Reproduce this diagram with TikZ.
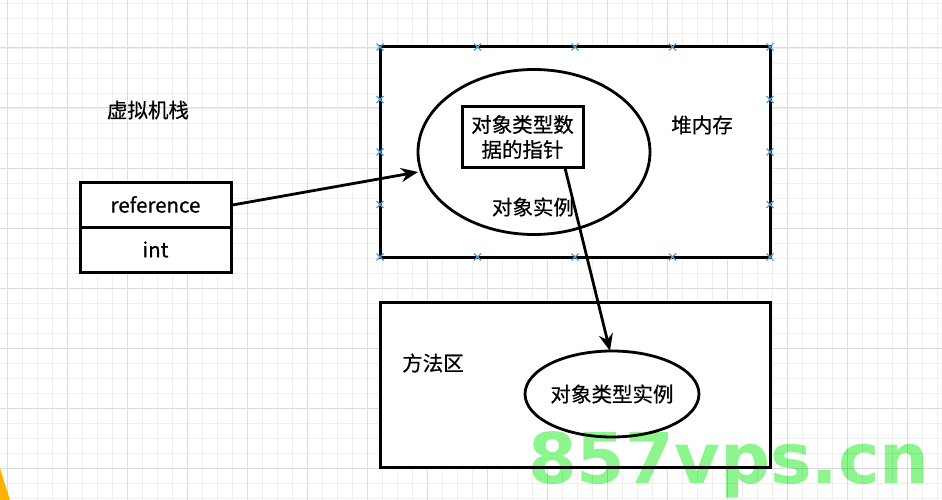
\documentclass[tikz,border=0pt]{standalone}
\usepackage{fontspec}
\setmainfont{Noto Sans CJK SC}[FakeBold=0.5]
\newfontfamily\wmfont{DejaVu Sans}[BoldFont={DejaVu Sans Bold}]
\usetikzlibrary{arrows.meta,shapes.geometric}
\definecolor{gridminor}{HTML}{EFEFEF}
\definecolor{gridmajor}{HTML}{DCDCDC}
\definecolor{markblue}{HTML}{4A9FD6}
\definecolor{wmgreen}{HTML}{8DF58D}
\definecolor{cornery}{HTML}{FFB300}
\tikzset{
  box/.style={draw=black,line width=3pt,fill=white},
  ell/.style={draw=black,line width=2.8pt,fill=white,ellipse,inner sep=0pt},
  lbl/.style={font=\fontsize{20.5}{24}\selectfont,inner sep=0pt},
  conn/.style={draw=black,line width=2.8pt,-{Stealth[length=17pt,width=14pt]}},
  xmark/.style={draw=markblue,line width=1.1pt},
}
\begin{document}
\begin{tikzpicture}[x=1pt,y=-1pt]
\useasboundingbox (0,0) rectangle (942,500);
\fill[white] (0,0) rectangle (942,500);
% grid
\foreach \x in {-8,7,...,942} \draw[gridminor,line width=0.8pt] (\x,0) -- (\x,500);
\foreach \y in {3,18,...,500} \draw[gridminor,line width=0.8pt] (0,\y) -- (942,\y);
\foreach \x in {7,67,...,942} \draw[gridmajor,line width=1pt] (\x,0) -- (\x,500);
\foreach \y in {48,108,...,500} \draw[gridmajor,line width=1pt] (0,\y) -- (942,\y);
% heap
\node[box,minimum width=390pt,minimum height=210pt,inner sep=0pt] (heap) at (575.5,152) {};
\foreach \x in {380,477.5,575,672.5,770} {
  \foreach \y in {47,257} \draw[xmark] (\x-3.5,\y-3.5) -- (\x+3.5,\y+3.5) (\x-3.5,\y+3.5) -- (\x+3.5,\y-3.5);
}
\foreach \y in {99.5,152,204.5} {
  \foreach \x in {380,770} \draw[xmark] (\x-3.5,\y-3.5) -- (\x+3.5,\y+3.5) (\x-3.5,\y+3.5) -- (\x+3.5,\y-3.5);
}
\node[lbl] (heaplbl) at (702,125) {堆内存};
\node[ell,minimum width=232pt,minimum height=165pt] (obj) at (534,152) {};
\node[lbl] (objlbl) at (533,207) {对象实例};
\node[draw=black,line width=3pt,fill=white,minimum width=121pt,minimum height=60pt,inner sep=0pt,align=center,font=\fontsize{20.5}{25}\selectfont] (ptr) at (522.5,137) {对象类型数\\据的指针};
% stack
\node[lbl] (stacklbl) at (148,110) {虚拟机栈};
\node[box,minimum width=151pt,minimum height=45pt,inner sep=0pt,font=\fontsize{20.5}{24}\selectfont] (ref) at (155.5,204.5) {reference};
\node[box,minimum width=151pt,minimum height=45pt,inner sep=0pt,font=\fontsize{20.5}{24}\selectfont] (int) at (155.5,249.5) {int};
% method area
\node[box,minimum width=390pt,minimum height=165pt,inner sep=0pt] (meth) at (575,384.5) {};
\node[lbl] (methlbl) at (433,363) {方法区};
\node[ell,minimum width=166pt,minimum height=86pt,font=\fontsize{20.5}{24}\selectfont] (cls) at (612,394) {对象类型实例};
% connectors
\coordinate (a1) at (231,205);
\coordinate (a2) at (418,172);
\draw[conn] (ref.east |- a1) -- (a2);
\coordinate (b1) at (565,168);
\coordinate (b2) at (610,351);
\draw[conn] (b1) -- (b2);
% watermark
\begin{scope}[blend mode=multiply]
\node[anchor=base west,inner sep=0pt,text=wmgreen,font=\wmfont\bfseries\fontsize{70}{74}\selectfont] (wm) at (528,483) {857vps.cn};
\end{scope}
% corner
\fill[cornery] (0,468) -- (10,500) -- (0,500) -- cycle;
\end{tikzpicture}
\end{document}
